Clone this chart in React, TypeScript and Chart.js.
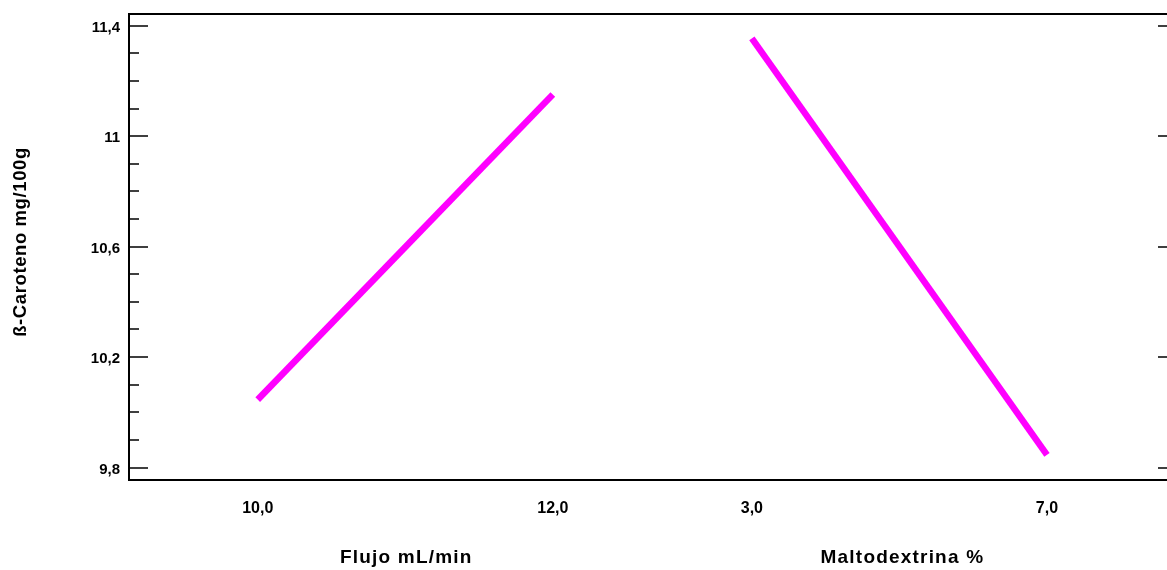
import React, { useEffect, useRef } from 'react';
import { Chart, registerables } from 'chart.js';

Chart.register(...registerables);

// ---- data ----
const flujoLevels = [10, 12];
const flujoMeans = [10.046, 11.151];
const flujoTickLabels = ['10,0', '12,0'];

const maltoLevels = [3, 7];
const maltoMeans = [11.354, 9.846];
const maltoTickLabels = ['3,0', '7,0'];

const yTickValues = [9.8, 10.2, 10.6, 11, 11.4];
const yTickLabels = ['9,8', '10,2', '10,6', '11', '11,4'];

const xTitles = ['Flujo mL/min', 'Maltodextrina %'];
const yTitle = 'ß-Caroteno mg/100g';

const FONT = '"Liberation Sans", Arial, Helvetica, sans-serif';
const LINE_COLOR = '#ff00ff';

export default function App() {
  const ref = useRef<HTMLCanvasElement>(null);

  useEffect(() => {
    if (!ref.current) return;

    const framePlugin = {
      id: 'frame',
      afterDraw(chart: any) {
        const { ctx, chartArea: a, scales } = chart;
        const y = scales.y;
        ctx.save();
        ctx.strokeStyle = '#000';
        ctx.lineWidth = 2;
        ctx.strokeRect(a.left, a.top, a.right - a.left, a.bottom - a.top);

        // major + minor ticks (inward), left and right
        const drawTick = (v: number, len: number) => {
          const py = Math.round(y.getPixelForValue(v));
          ctx.beginPath();
          ctx.moveTo(a.left, py);
          ctx.lineTo(a.left + len, py);
          ctx.moveTo(a.right, py);
          ctx.lineTo(a.right - len, py);
          ctx.stroke();
        };
        ctx.lineWidth = 1.6;
        yTickValues.forEach((v, i) => {
          drawTick(v, 19);
          if (i < yTickValues.length - 1) {
            const step = (yTickValues[i + 1] - v) / 4;
            for (let k = 1; k < 4; k++) drawTick(v + k * step, 10);
          }
        });

        // x tick labels
        ctx.fillStyle = '#000';
        ctx.font = `bold 16px ${FONT}`;
        ctx.textAlign = 'center';
        ctx.textBaseline = 'middle';
        flujoLevels.forEach((v, i) =>
          ctx.fillText(flujoTickLabels[i], scales.x1.getPixelForValue(v), 509)
        );
        maltoLevels.forEach((v, i) =>
          ctx.fillText(maltoTickLabels[i], scales.x2.getPixelForValue(v), 509)
        );

        // x titles
        ctx.font = `bold 19px ${FONT}`;
        (ctx as any).letterSpacing = '1.2px';
        ctx.textBaseline = 'alphabetic';
        const fx =
          (scales.x1.getPixelForValue(flujoLevels[0]) +
            scales.x1.getPixelForValue(flujoLevels[1])) / 2;
        const mx =
          (scales.x2.getPixelForValue(maltoLevels[0]) +
            scales.x2.getPixelForValue(maltoLevels[1])) / 2;
        ctx.fillText(xTitles[0], fx + 1, 563);
        ctx.fillText(xTitles[1], mx + 3, 563);

        // y title
        (ctx as any).letterSpacing = '0.6px';
        ctx.font = `bold 18.5px ${FONT}`;
        ctx.translate(26, 242);
        ctx.rotate(-Math.PI / 2);
        ctx.fillText(yTitle, 0, 0);
        ctx.restore();
      },
    };

    const chart = new Chart(ref.current, {
      type: 'line',
      data: {
        datasets: [
          {
            label: 'Flujo',
            xAxisID: 'x1',
            data: flujoLevels.map((x, i) => ({ x, y: flujoMeans[i] })),
            borderColor: LINE_COLOR,
            borderWidth: 6.5,
            pointRadius: 0,
            borderCapStyle: 'butt',
          },
          {
            label: 'Maltodextrina',
            xAxisID: 'x2',
            data: maltoLevels.map((x, i) => ({ x, y: maltoMeans[i] })),
            borderColor: LINE_COLOR,
            borderWidth: 6.5,
            pointRadius: 0,
            borderCapStyle: 'butt',
          },
        ],
      },
      options: {
        animation: false,
        responsive: false,
        layout: { padding: { left: 0, top: 14, right: 13, bottom: 90 } },
        plugins: {
          legend: { display: false },
          tooltip: { enabled: false },
        },
        scales: {
          x1: {
            type: 'linear',
            display: false,
            min: 9.1275,
            max: 16.2305,
          },
          x2: {
            type: 'linear',
            display: false,
            min: -5.4434,
            max: 8.7627,
          },
          y: {
            type: 'linear',
            min: 9.755,
            max: 11.4423,
            grid: { display: false, drawTicks: false },
            border: { display: false },
            afterFit(scale: any) {
              scale.width = 129;
              scale.paddingTop = 0;
              scale.paddingBottom = 0;
            },
            afterBuildTicks(scale: any) {
              scale.ticks = yTickValues.map((value) => ({ value }));
            },
            ticks: {
              padding: 9,
              labelOffset: 2,
              color: '#000',
              font: { family: FONT, size: 15, weight: 'bold' },
              callback: (value: any) => {
                const idx = yTickValues.findIndex((t) => Math.abs(t - value) < 1e-6);
                return idx >= 0 ? yTickLabels[idx] : '';
              },
            },
          },
        },
      },
      plugins: [framePlugin],
    } as any);

    return () => chart.destroy();
  }, []);

  return (
    <div
      style={{
        position: 'absolute',
        left: 0,
        top: 0,
        width: 1167,
        height: 570,
        overflow: 'hidden',
        background: '#fff',
      }}
    >
      <canvas ref={ref} width={1190} height={570} style={{ width: 1190, height: 570, display: 'block' }} />
    </div>
  );
}
